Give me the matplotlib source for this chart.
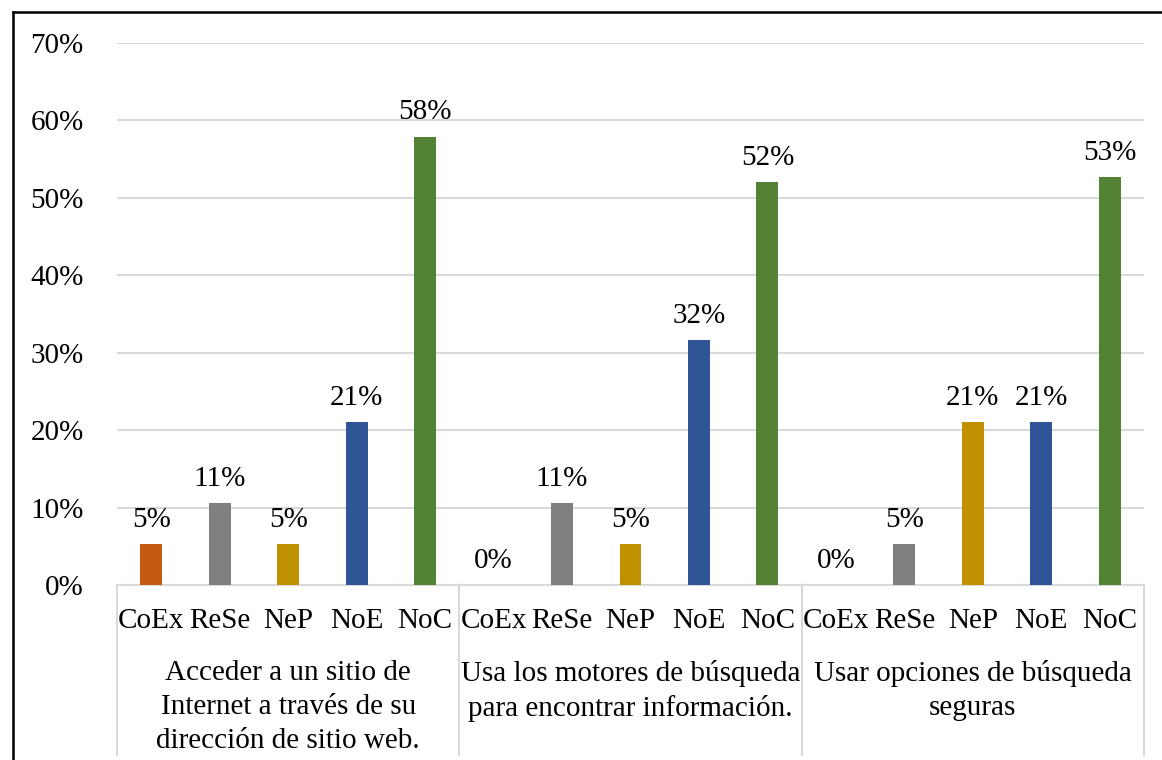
import matplotlib.pyplot as plt
import matplotlib.transforms as mtransforms
from matplotlib.lines import Line2D

# categorías y porcentajes por grupo
niveles = ['CoEx', 'ReSe', 'NeP', 'NoE', 'NoC']
grupos = ['Acceder a un sitio de\nInternet a través de su\ndirección de sitio web.',
          'Usa los motores de búsqueda\npara encontrar información.',
          'Usar opciones de búsqueda\nseguras']
acceder = [5.26, 10.53, 5.26, 21.05, 57.89]
motores = [0.0, 10.53, 5.26, 31.58, 52.0]
opciones = [0.0, 5.26, 21.05, 21.05, 52.63]
colores = ['#C55A11', '#7F7F7F', '#BF9000', '#2F5597', '#548235']

plt.rcParams['font.family'] = ['Liberation Serif', 'DejaVu Serif']
fs = 21

fig = plt.figure(figsize=(11.62, 7.6), dpi=100)
W, H = 1162, 760
ax = fig.add_axes([117 / W, (H - 585) / H, (1144 - 117) / W, (585 - 43) / H])

series = [acceder, motores, opciones]
xs, hs, cs, labs = [], [], [], []
for g, vals in enumerate(series):
    for k, v in enumerate(vals):
        xs.append(g * len(niveles) + k)
        hs.append(v)
        cs.append(colores[k])
        labs.append(niveles[k])

ax.bar(xs, hs, width=0.32, color=cs, zorder=3)
for x, h in zip(xs, hs):
    ax.annotate('{:.0f}%'.format(h), xy=(x, h), xytext=(0, 12.5),
                textcoords='offset points', ha='center', va='baseline',
                fontsize=fs, color='black')

ax.set_xlim(-0.5, len(xs) - 0.5)
ax.set_ylim(0, 70)
ax.set_yticks(range(0, 71, 10))
ax.set_yticklabels(['{}%'.format(t) for t in range(0, 71, 10)], fontsize=fs)
ax.yaxis.grid(True, color='#D9D9D9', linewidth=1.5, zorder=0)
ax.tick_params(axis='y', length=0, pad=24)
ax.set_xticks(xs)
ax.set_xticklabels(labs, fontsize=fs)
ax.tick_params(axis='x', length=0, pad=16.5)

for s in ['left', 'right', 'top']:
    ax.spines[s].set_visible(False)
ax.spines['bottom'].set_color('#D9D9D9')
ax.spines['bottom'].set_linewidth(1.5)

# separadores de grupo y etiquetas de grupo
trans = mtransforms.blended_transform_factory(ax.transData, ax.transAxes)
y_fin = (585 - 755) / (585 - 43)
for g in range(len(grupos) + 1):
    xd = g * len(niveles) - 0.5
    ax.plot([xd, xd], [0, y_fin], color='#D9D9D9', linewidth=1.5,
            transform=trans, clip_on=False)
for g, nombre in enumerate(grupos):
    xc = g * len(niveles) + (len(niveles) - 1) / 2
    ax.text(xc, (585 - 660) / (585 - 43), nombre, transform=trans,
            ha='center', va='top', fontsize=fs, linespacing=1.4)

# marco exterior
fig.add_artist(Line2D([13 / W, 13 / W], [0, 1 - 12 / H], color='black',
                      linewidth=1.8, transform=fig.transFigure))
fig.add_artist(Line2D([13 / W, 1], [1 - 12 / H, 1 - 12 / H], color='black',
                      linewidth=1.8, transform=fig.transFigure))

fig.savefig('out.png', dpi=100)
